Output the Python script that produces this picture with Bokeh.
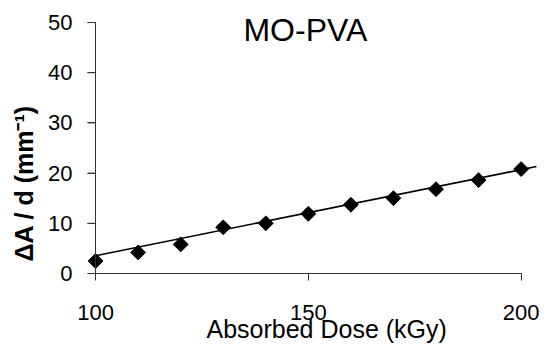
import numpy as np
from bokeh.plotting import figure
from bokeh.models import Range1d, FixedTicker, Label, ColumnDataSource, LinearAxis, Title
from bokeh.embed import file_html
from bokeh.resources import INLINE

# data
dose = [100, 110, 120, 130, 140, 150, 160, 170, 180, 190, 200]
dA_d = [2.5, 4.2, 5.8, 9.2, 10.0, 11.9, 13.7, 15.0, 16.8, 18.6, 20.8]
trend_x = [100, 203.6]
trend_y = [3.55, 21.3]
x_ticks = [100, 150, 200]
y_ticks = [0, 10, 20, 30, 40, 50]
title_text = "MO-PVA"
x_label = "Absorbed Dose (kGy)"
y_label = "ΔA / d (mm⁻¹)"

FONT = "Liberation Sans"
AX = "#333333"
X_START, X_END = 98.1, 205.5
Y_AXIS_AT = 100

p = figure(width=544, height=344, output_backend="svg", toolbar_location=None,
           x_range=Range1d(X_START, X_END), y_range=Range1d(0, 52),
           min_border_left=86, min_border_right=0, min_border_top=12,
           min_border_bottom=71)
p.outline_line_color = None
p.xgrid.visible = False
p.ygrid.visible = False

# x axis
xa = p.xaxis[0]
xa.ticker = FixedTicker(ticks=x_ticks)
xa.bounds = (100, 200)
xa.major_tick_out = 7
xa.major_tick_in = 0
xa.minor_tick_out = 0
xa.minor_tick_in = 0
xa.major_label_standoff = 24
xa.major_label_text_font = FONT
xa.major_label_text_font_size = "22px"
xa.major_label_text_color = "black"
xa.axis_line_color = AX
xa.major_tick_line_color = AX

# y axis: labels and ticks, at the frame's left edge
ya = p.yaxis[0]
ya.ticker = FixedTicker(ticks=y_ticks)
ya.axis_line_color = None
ya.major_tick_line_color = AX
ya.minor_tick_line_color = None
ya.major_tick_out = 0
ya.major_tick_in = 8
ya.major_label_standoff = 15
ya.major_label_text_font = FONT
ya.major_label_text_font_size = "22px"
ya.major_label_text_color = "black"

# y axis line (and ticks) at x = 100
ya2 = LinearAxis(ticker=FixedTicker(ticks=y_ticks), fixed_location=Y_AXIS_AT,
                 bounds=(0, 50),
                 major_tick_out=8, major_tick_in=0, minor_tick_out=0,
                 minor_tick_in=0, axis_line_color=AX, major_tick_line_color=AX,
                 minor_tick_line_color=None, major_label_text_alpha=0,
                 major_label_text_font_size="1px", major_label_standoff=0)
p.add_layout(ya2, "left")

# y tick marks, from the frame edge to the y axis line
p.segment(x0=[X_START] * len(y_ticks), y0=y_ticks,
          x1=[Y_AXIS_AT] * len(y_ticks), y1=y_ticks,
          line_color=AX, line_width=1)

src = ColumnDataSource(dict(x=dose, y=dA_d))
p.line(trend_x, trend_y, line_color="black", line_width=1.6)
p.scatter("x", "y", source=src, marker="square", angle=np.pi / 4, size=10.5,
          fill_color="black", line_color="black")

p.add_layout(Label(x=149.3, y=48.5, text=title_text, text_align="center",
                   text_baseline="middle", text_font=FONT,
                   text_font_size="32px", text_color="black"))

p.add_layout(Title(text=y_label, align="left", offset=12, standoff=15,
                   text_font=FONT, text_font_size="25px",
                   text_font_style="bold", text_color="black"), "left")
p.add_layout(Title(text=x_label, align="left", offset=119, standoff=-19,
                   text_font=FONT, text_font_size="25px",
                   text_font_style="normal", text_color="black"), "below")

open("out.html", "w").write(file_html(p, INLINE))
